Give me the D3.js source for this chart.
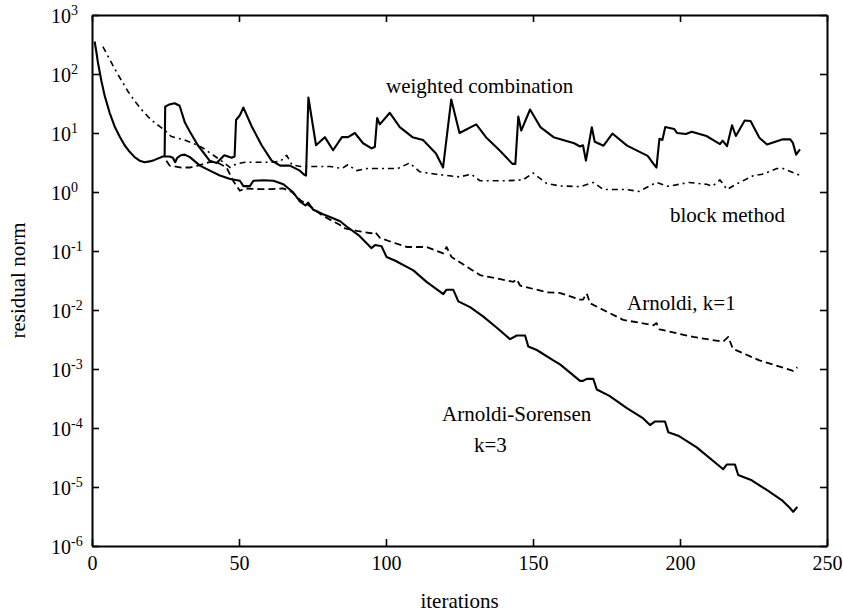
<!DOCTYPE html>
<html>
<head>
<meta charset="utf-8">
<script src="https://cdn.jsdelivr.net/npm/d3@7"></script>
<style>
  html, body { margin: 0; padding: 0; background: #fff; }
  svg { display: block; }
  text { font-family: "Liberation Serif", "Times New Roman", serif; fill: #000; }
</style>
</head>
<body>
<svg id="chart" width="843" height="615"></svg>
<script>
// ---- data ----
const xTicks = [0, 50, 100, 150, 200, 250];
const yExponents = [3, 2, 1, 0, -1, -2, -3, -4, -5, -6];

// [iteration, residual norm]
const arnoldiSorensen = [[0.9,355],[1.5,234],[2,158],[3.2,76],[4.3,43],[6,22],[7.7,12.9],[9.4,8.7],[11.1,6.2],[12.8,4.8],[14.5,3.9],[16.2,3.4],[17.9,3.2],[19.6,3.3],[21.3,3.5],[24.1,4.0],[26.4,4.0],[27.5,3.8],[28.3,3.2],[29,3.8],[30.2,4.2],[31.5,4.3],[33.3,3.9],[35,3.3],[36.7,2.8],[40.1,2.3],[43.5,1.9],[47,1.66],[50.3,1.55],[51.5,1.26],[53.7,1.26],[54.9,1.55],[58.3,1.58],[61.7,1.55],[65.1,1.35],[68.5,0.98],[70.7,0.69],[72.6,0.59],[73.5,0.66],[75.3,0.5],[78.6,0.42],[82,0.36],[84.4,0.32],[86.6,0.26],[91,0.18],[95,0.112],[96.3,0.126],[98.5,0.12],[100.2,0.079],[103,0.069],[109.3,0.047],[113.8,0.030],[119.5,0.0186],[120.5,0.022],[122.9,0.022],[124.6,0.014],[128.6,0.0112],[133,0.0078],[137.7,0.0050],[142.2,0.0032],[144.5,0.0037],[147.3,0.0037],[148.4,0.0024],[151.3,0.0021],[156.9,0.0014],[159.2,0.0012],[166,0.00063],[167,0.00063],[168.3,0.00068],[170.5,0.00068],[171.7,0.00045],[176,0.00035],[181.8,0.00022],[187.5,0.000145],[189.8,0.000112],[191.5,0.000129],[194.9,0.000129],[196,0.000085],[199.4,0.000074],[205.7,0.000047],[214.7,0.000020],[215.9,0.000024],[218.7,0.000024],[219.8,0.000016],[224.4,0.000013],[229.5,0.0000089],[234.6,0.0000060],[237.4,0.0000044],[238.5,0.0000038],[239.9,0.0000046]];

const weightedCombination = [[24.7,4.0],[24.9,28],[26,30],[27,31],[28.1,32],[29.8,29],[31.6,15],[33.3,10.5],[36,6.2],[40,3.4],[42.4,3.1],[45,4.2],[47.5,3.8],[48.5,4.0],[49,16.6],[50.3,20],[51.5,27],[54.3,13],[57.7,6.2],[61.1,3.4],[64,2.8],[67.3,2.8],[70.7,2.3],[72,2.0],[72.8,1.9],[73.6,40],[76.2,6.2],[79.2,8.5],[82,5.1],[85,8.5],[87.1,8.5],[89.4,10],[92.2,6.7],[95.1,5.5],[96.2,5.8],[97,18],[97.9,14],[101.3,22],[104.7,12.6],[109,8.5],[112.6,7.6],[117,4.5],[119.4,2.6],[122.2,37],[125,10],[130.7,14],[134,8.5],[138.6,5.1],[143,3.0],[144,3.0],[145,19],[146,11],[149,25],[152.5,12.6],[157,8.5],[164,6.7],[166,5.9],[167,6.2],[168,3.4],[170,12.5],[171,7.1],[174,6.1],[177,9.8],[182,6.1],[189,4.1],[191,3.0],[192,2.6],[193,8],[194,7.6],[195,12.6],[198,11.7],[199,10],[202,9.6],[204,10.5],[209,8.9],[213.6,6.5],[214.5,7.4],[216,6],[217.7,13.5],[219,8.9],[222,16.3],[224,16],[227,8.3],[229.6,6.4],[235,7.8],[237.5,7.8],[238.4,6.8],[239.5,4.3],[240.8,5.3]];

const blockMethod = [[3.7,290],[5.7,190],[7.7,123],[10,78],[12.2,51],[14.5,35],[16.8,25],[19,19],[21.3,15],[24.7,11.2],[27,8.7],[31.5,7.6],[36,6.2],[37.9,5.5],[41.3,4.2],[44.7,3.2],[47,2.6],[49.2,3.0],[52,3.2],[61,3.2],[64,3.3],[66.2,4.2],[68,2.9],[71,2.7],[81,2.7],[85,2.5],[87,2.9],[90,2.3],[93.5,2.5],[104,2.5],[108,3.1],[111.5,2.2],[117,2.0],[125,1.8],[129,2.0],[132,1.55],[141,1.55],[146.6,1.6],[150,2.1],[154.6,1.4],[159,1.27],[166,1.23],[170.5,1.45],[174,1.1],[182,1.1],[186,1.02],[192,1.45],[196,1.25],[203,1.45],[209,1.35],[211,1.25],[213.6,1.6],[216,1.1],[219,1.35],[225,1.9],[228,2.0],[233,2.5],[235,2.5],[241,1.9]];

const arnoldiK1 = [[25.3,3.4],[26.4,2.8],[30.4,2.6],[33.3,2.6],[36,2.8],[40,3.2],[42.4,3.2],[45.8,2.6],[48,1.55],[50.3,1.05],[52,1.15],[57,1.12],[61,1.12],[65,1.15],[68,1.0],[71,0.72],[73,0.63],[78.7,0.39],[84.4,0.275],[85.5,0.245],[90,0.22],[95,0.2],[96.3,0.21],[98,0.166],[101.4,0.145],[107,0.117],[113.8,0.117],[119.5,0.091],[120.6,0.117],[122.3,0.079],[132,0.039],[143.3,0.030],[144.5,0.033],[145.6,0.026],[154.6,0.020],[159,0.0195],[166,0.015],[167,0.015],[168.3,0.019],[169.4,0.013],[180.7,0.0068],[191,0.0055],[192,0.006],[193,0.0047],[204.5,0.0035],[214.7,0.0029],[216.4,0.0035],[218,0.0022],[227,0.0014],[238.5,0.00093],[239.9,0.00107]];

const annotations = [
  {text: "weighted combination", x: 386, y: 93},
  {text: "block method", x: 670, y: 222},
  {text: "Arnoldi, k=1", x: 627, y: 310},
  {text: "Arnoldi-Sorensen", x: 442, y: 421},
  {text: "k=3", x: 474, y: 452}
];

(function () {
const svg = d3.select("#chart");
const mLeft = 92, mRight = 827, mTop = 15, mBottom = 546;
const x = d3.scaleLinear().domain([0, 250]).range([mLeft, mRight]);
const y = d3.scaleLog().domain([1e-6, 1e3]).range([mBottom, mTop]);
const yTickVals = yExponents.map(e => Math.pow(10, e));

const axisStyle = g => {
  g.select(".domain").attr("stroke", "#000").attr("stroke-width", 2);
  g.selectAll(".tick line").attr("stroke", "#000").attr("stroke-width", 1.6);
};

svg.append("g").attr("transform", `translate(0,${mBottom})`)
  .call(d3.axisBottom(x).tickValues(xTicks).tickSize(-7).tickSizeOuter(0).tickPadding(10))
  .call(axisStyle)
  .call(g => g.selectAll(".tick text").attr("font-size", 20).attr("font-family", "Liberation Serif, serif"));

svg.append("g").attr("transform", `translate(0,${mTop})`)
  .call(d3.axisTop(x).tickValues(xTicks).tickSize(-7).tickSizeOuter(0).tickFormat(""))
  .call(axisStyle);

svg.append("g").attr("transform", `translate(${mRight},0)`)
  .call(d3.axisRight(y).tickValues(yTickVals).tickSize(-7).tickSizeOuter(0).tickFormat(""))
  .call(axisStyle);

const yAxisG = svg.append("g").attr("transform", `translate(${mLeft},0)`)
  .call(d3.axisLeft(y).tickValues(yTickVals).tickSize(-7).tickSizeOuter(0))
  .call(axisStyle);

yAxisG.selectAll(".tick text").each(function(d) {
  const t = d3.select(this);
  const e = Math.round(Math.log10(d));
  t.text(null)
    .attr("text-anchor", "start")
    .attr("x", 51 - mLeft)
    .attr("dy", null)
    .attr("y", 7)
    .attr("font-size", 20)
    .attr("font-family", "Liberation Serif, serif");
  t.append("tspan").text("10");
  t.append("tspan").attr("dy", -8).attr("font-size", 14).text(e < 0 ? "-" + Math.abs(e) : String(e));
});

const line = d3.line().x(d => x(d[0])).y(d => y(d[1]));
const plot = svg.append("g");
function drawSeries(data, dash, width) {
  plot.append("path").datum(data)
    .attr("d", line)
    .attr("fill", "none")
    .attr("stroke", "#000")
    .attr("stroke-width", width)
    .attr("stroke-linejoin", "round")
    .attr("stroke-dasharray", dash);
}
drawSeries(blockMethod, "6,4,2,4", 1.6);
drawSeries(arnoldiK1, "7,4", 1.8);
drawSeries(arnoldiSorensen, null, 2.1);
drawSeries(weightedCombination, null, 2.1);

svg.append("g").selectAll("text").data(annotations).join("text")
  .attr("x", d => d.x).attr("y", d => d.y)
  .attr("font-size", 21)
  .text(d => d.text);

svg.append("text").attr("x", (mLeft + mRight) / 2).attr("y", 608)
  .attr("text-anchor", "middle").attr("font-size", 21).text("iterations");
svg.append("text")
  .attr("transform", `translate(25,${(mTop + mBottom) / 2}) rotate(-90)`)
  .attr("text-anchor", "middle").attr("font-size", 21).text("residual norm");
})();
</script>
</body>
</html>
